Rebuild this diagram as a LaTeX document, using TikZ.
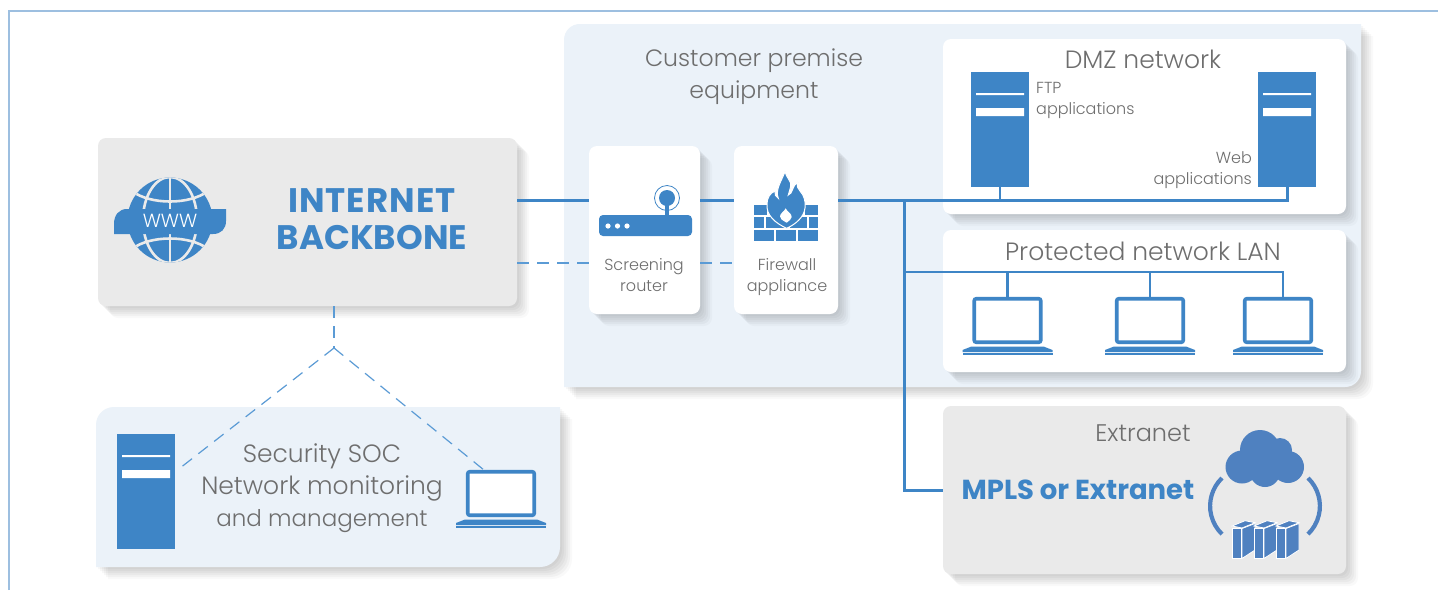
\documentclass[tikz,border=0pt]{standalone}
\usepackage{fontspec}
\setmainfont{Poppins}
\newfontfamily\lightfont{Poppins Light}
\usepackage{tikz}
\usetikzlibrary{shadows,calc}
\definecolor{netblue}{HTML}{3E85C6}
\definecolor{dashblue}{HTML}{5B9BD5}
\definecolor{cloudblue}{HTML}{4F81C0}
\definecolor{softblue}{HTML}{EBF2F9}
\definecolor{softgrey}{HTML}{EAEAEA}
\definecolor{labelgrey}{HTML}{6E6E6E}
\definecolor{framblue}{HTML}{9DBFE0}
\tikzstyle{softshadow} = [drop shadow={shadow xshift=12pt,shadow yshift=-12pt,opacity=.025,fill=black},
  drop shadow={shadow xshift=10pt,shadow yshift=-10pt,opacity=.03,fill=black},
  drop shadow={shadow xshift=8pt,shadow yshift=-8pt,opacity=.03,fill=black},
  drop shadow={shadow xshift=6pt,shadow yshift=-6pt,opacity=.03,fill=black},
  drop shadow={shadow xshift=4pt,shadow yshift=-4pt,opacity=.03,fill=black},
  drop shadow={shadow xshift=2pt,shadow yshift=-2pt,opacity=.03,fill=black}]
\tikzstyle{card} = [rectangle, rounded corners=8pt, inner sep=0pt, fill=white, softshadow]
\tikzstyle{greycard} = [card, fill=softgrey]
\tikzstyle{serverbox} = [rectangle, inner sep=0pt, fill=netblue, minimum width=58pt, minimum height=115pt,
  path picture={\fill[white] (-24,-36.5) rectangle (24,-34.5) (-24,-21.5) rectangle (24,-13.5);}]
\tikzstyle{laptopbox} = [rectangle, rounded corners=2pt, inner sep=0pt, fill=white, draw=netblue, line width=3.6pt, minimum width=66.5pt, minimum height=43.5pt]
\tikzstyle{wire} = [netblue, line width=3pt]
\tikzstyle{thinwire} = [netblue, line width=2.6pt]
\tikzstyle{dashwire} = [dashblue, line width=1.2pt, dash pattern=on 12pt off 8pt]
\tikzstyle{biglabel} = [labelgrey, inner sep=0pt, align=center, font=\lightfont\fontsize{25}{32}\selectfont]
\tikzstyle{smalllabel} = [labelgrey, inner sep=0pt, font=\lightfont\fontsize{16}{21}\selectfont]
\tikzstyle{boldlabel} = [netblue, inner sep=0pt, align=center, font=\bfseries\fontsize{34}{37}\selectfont]
\newcommand{\laptop}[3]{
\node (#1) [laptopbox] at (#2,#3) {};
\fill[netblue] (#2-36,#3+26) -- (#2+36,#3+26) -- (#2+45,#3+29.5) -- (#2+45,#3+31.5) -- (#2-45,#3+31.5) -- (#2-45,#3+29.5) -- cycle;
\fill[netblue] (#2-45,#3+32.3) rectangle (#2+45,#3+34.3);
}
\newcommand{\rackbox}[1]{
\fill[cloudblue,draw=white,line width=.8pt] (#1,526) -- (#1+13,520.7) -- (#1+23,522.7) -- (#1+10,528) -- cycle;
\fill[cloudblue,draw=white,line width=.8pt] (#1,528) rectangle (#1+9,558.5);
\fill[cloudblue,draw=white,line width=.8pt] (#1+10,528.5) -- (#1+23,523.5) -- (#1+23,550) -- (#1+10,558.5) -- cycle;
}
\begin{document}
\begin{tikzpicture}[x=1pt,y=-1pt]
\useasboundingbox (0,0) rectangle (1438,590);
\fill[white] (0,0) rectangle (1438,590);
\draw[framblue, line width=1.5pt] (9,590) -- (9,11) -- (1438,11);

% big panels
\fill[softblue, softshadow] (580,24) -- (1361,24) -- (1361,371) .. controls (1361,380) and (1354,387) .. (1345,387) -- (564,387) -- (564,40) .. controls (564,31) and (571,24) .. (580,24) -- cycle;
\fill[softblue, softshadow] (114,407) -- (560,407) -- (560,547) .. controls (560,558) and (551,567) .. (540,567) -- (96,567) -- (96,425) .. controls (96,415) and (104,407) .. (114,407) -- cycle;

\coordinate (buslevel) at (0,200.2);
\coordinate (dashlevel) at (0,263);
\coordinate (lanlevel) at (0,272);
\coordinate (trunk) at (904,0);
\coordinate (socfork) at (334,348);

\node (internet) [greycard, minimum width=419pt, minimum height=168pt] at (307.5,222) {};
\node (router) [card, minimum width=111pt, minimum height=168pt] at (644.5,230) {};
\node (firewall) [card, minimum width=104pt, minimum height=168pt] at (786,230) {};
\node (dmz) [card, minimum width=403pt, minimum height=175pt] at (1144.5,126.5) {};
\node (lan) [card, minimum width=403pt, minimum height=142pt] at (1144.5,301) {};
\node (extranet) [greycard, minimum width=403pt, minimum height=168pt] at (1144.5,490) {};

\node (ftpserver) [serverbox] at (1000,129.5) {};
\node (webserver) [serverbox] at (1287,129.5) {};
\node (socserver) [serverbox] at (146,491.5) {};

\laptop{lanone}{1007.5}{320.5}
\laptop{lantwo}{1150}{320.5}
\laptop{lanthree}{1278}{320.5}
\laptop{soclaptop}{501}{493.5}

% connectors
\draw [wire] (internet.east |- buslevel) -- (router.west |- buslevel);
\draw [wire] (router.east |- buslevel) -- (firewall.west |- buslevel);
\draw [wire] (firewall.east |- buslevel) -- (webserver.south |- buslevel) -- (webserver.south);
\draw [thinwire] (ftpserver.south) -- (ftpserver.south |- buslevel);
\draw [wire] (trunk |- buslevel) -- (trunk |- extranet.west) -- (extranet.west);
\draw [thinwire] (trunk |- lanlevel) -- ($(lanthree.north |- lanlevel)+(5,0)$) -- ($(lanthree.north)+(5,0)$);
\draw [thinwire] (lanone.north |- lanlevel) -- (lanone.north);
\draw [thinwire] (lantwo.north |- lanlevel) -- (lantwo.north);
\draw [dashwire] (internet.east |- dashlevel) -- (router.west |- dashlevel);
\draw [dashwire] (router.east |- dashlevel) -- (firewall.west |- dashlevel);
\draw [dashwire] (internet.south -| socfork) -- (socfork);
\draw [dashwire, shorten >=3pt] (socfork) -- (socserver.34);
\draw [dashwire] (socfork) -- (soclaptop.126);

% globe
\node (globe) [circle, fill=netblue, minimum size=85pt, inner sep=0pt] at (170,220) {};
\begin{scope}
\clip (170,220) circle (42.5pt);
\draw[softgrey, line width=2.6pt] (170,170) -- (170,270);
\draw[softgrey, line width=2.6pt] (170,220) ellipse (27pt and 43pt);
\draw[softgrey, line width=2.6pt] (132,191) .. controls (150,205) and (190,205) .. (208,191);
\draw[softgrey, line width=2.6pt] (132,249) .. controls (150,235) and (190,235) .. (208,249);
\end{scope}
\fill[netblue] (114,234) -- (114,224) .. controls (114,215) and (119,209) .. (127,209) -- (226,209) -- (226,221) .. controls (226,229) and (221,234) .. (213,234) -- cycle;
\node (www) [white, inner sep=0pt, font=\lightfont\fontsize{19}{19}\selectfont] at (170,221) {WWW};

% router icon
\node (routerbody) [rectangle, rounded corners=4pt, fill=netblue, minimum width=93pt, minimum height=21pt, inner sep=0pt] at (645.5,225.5) {};
\fill[white] (608,226) circle (2.6pt) (617.5,226) circle (2.6pt) (627,226) circle (2.6pt);
\fill[netblue] (665,198) rectangle (669,215);
\fill[netblue] (667,198) circle (8pt);
\draw[netblue, line width=.8pt] (667,198) circle (12.5pt);

% firewall icon
\foreach \xa/\xb in {754/767,805/817.5} \fill[netblue] (\xa,205) rectangle (\xb,215);
\foreach \xa/\xb in {754/764,766/788,790/807,809/818} \fill[netblue] (\xa,217) rectangle (\xb,228);
\foreach \xa/\xb in {754/774,776/796,798/818} \fill[netblue] (\xa,230) rectangle (\xb,241);
\fill[netblue, draw=white, line width=1pt] (786.7,228.3) .. controls (775,223) and (766,215) .. (767,204) .. controls (767,198) and (770,193) .. (775,191) .. controls (774,194) and (776,197) .. (778.3,198.3) .. controls (775,190) and (781,182) .. (785,171.7) .. controls (786,177) and (792,182) .. (790.7,186) .. controls (790,190) and (789,192) .. (788.3,195) .. controls (793,194) and (792,185) .. (798.3,181.7) .. controls (796,186) and (798,189) .. (800,191) .. controls (804,195) and (806,202) .. (805,208) .. controls (804,217) and (796,224) .. (786.7,228.3) -- cycle;
\fill[white] (786.7,222.7) .. controls (782,220) and (780,219) .. (780,216.5) .. controls (780,213) and (784,212) .. (785.7,208.3) .. controls (787,212) and (791.7,213) .. (791.7,217) .. controls (791.7,219) and (789,221) .. (786.7,222.7) -- cycle;

% cloud icon
\fill[cloudblue] (1260,450) circle (20pt) (1280,450) circle (12pt) (1242,467) circle (16.5pt) (1288,467) circle (16pt) (1265,472) circle (15pt) (1250,458) rectangle (1290,470);
\draw[cloudblue, line width=4.2pt] (1222,478) arc[start angle=134,end angle=226,radius=39pt];
\draw[cloudblue, line width=4.2pt] (1308,478) arc[start angle=46,end angle=-46,radius=39pt];
\rackbox{1232}
\rackbox{1254}
\rackbox{1276}

% labels
\node (premisetext) [biglabel, font=\lightfont\fontsize{23.6}{32}\selectfont] at (754,77) {Customer premise\\equipment};
\node (dmztext) [biglabel] at (1143,59.5) {DMZ network};
\node (lantext) [biglabel] at (1143,251) {Protected network LAN};
\node (extranettext) [biglabel, font=\lightfont\fontsize{24}{32}\selectfont] at (1143,433) {Extranet};
\node (soctext) [biglabel] at (322,488.5) {Security SOC\\Network monitoring\\{\fontsize{23}{32}\selectfont and management}};
\node (ftptext) [smalllabel, align=left, anchor=west] at (1036,100.5) {FTP\\applications};
\node (webtext) [smalllabel, align=right, anchor=east] at (1252,170.5) {Web\\applications};
\node (routertext) [smalllabel, align=center] at (644,275) {Screening\\router};
\node (firewalltext) [smalllabel, align=center] at (787,277) {Firewall\\appliance};
\node (internettext) [boldlabel] at (372,219.5) {{\addfontfeature{LetterSpace=3}INTERNET}\\BACKBONE};
\node (mplstext) [boldlabel, font=\bfseries\fontsize{27.5}{30}\selectfont] at (1078,490) {MPLS or Extranet};

\end{tikzpicture}
\end{document}
